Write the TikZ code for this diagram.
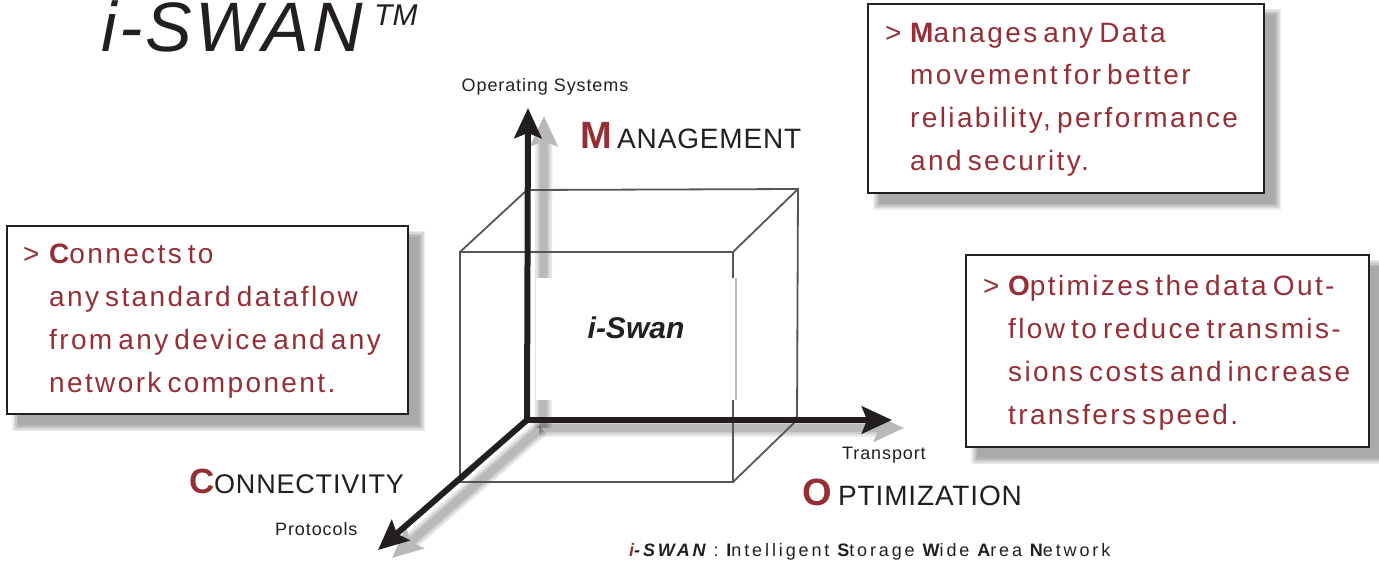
\documentclass[tikz,border=0pt]{standalone}
\usepackage{fontspec}
\setmainfont{Liberation Sans}
\newfontfamily\boxfont[LetterSpace=8.5,WordSpace=0.6]{Liberation Sans}
\newfontfamily\labfont[LetterSpace=5]{Liberation Sans}
\newfontfamily\capsfont[LetterSpace=3]{Liberation Sans}
\newfontfamily\titlefont[LetterSpace=4]{Liberation Sans}
\newfontfamily\capfont[LetterSpace=16]{Liberation Sans}
\usetikzlibrary{arrows.meta,fit}
\definecolor{ink}{RGB}{35,31,32}
\definecolor{wine}{RGB}{150,46,54}
\definecolor{edgegray}{RGB}{85,85,85}
\newcommand\myboxshadow[2]{%
  \foreach \d in {0,1.5,3,4.5,6}{%
    \fill[black,opacity=0.08] ([shift={(11-\d,11-\d)}]#1) rectangle ([shift={(11+\d,11+\d)}]#2);}}
\begin{document}
\begin{tikzpicture}[x=1pt,y=-1pt,
  axis/.style={line width=6pt, draw=ink, -{Stealth[length=30pt,width=27pt,inset=5pt]}},
  axshadow/.style={line width=#1, draw=black, -{Stealth[length=30pt,width=27pt,inset=5pt]}},
  cubeedge/.style={draw=edgegray, line width=1.8pt},
  infobox/.style={draw=ink, line width=2.5pt, fill=white, inner sep=0pt},
  boxtxt/.style={anchor=base west, inner sep=0pt, text=wine, font=\boxfont\fontsize{28}{34}\selectfont},
  lab/.style={anchor=base west, inner sep=0pt, text=ink, font=\labfont\fontsize{18}{22}\selectfont},
  bigcap/.style={anchor=base west, inner sep=0pt, text=wine, font=\bfseries\fontsize{#1}{#1}\selectfont},
  smallcaps/.style={anchor=base west, inner sep=0pt, text=ink, font=\capsfont\fontsize{#1}{#1}\selectfont}
]
\useasboundingbox (0,0) rectangle (1379,564);

% title
\node[anchor=base west, inner sep=0pt, text=ink, font=\titlefont\itshape\fontsize{70}{70}\selectfont] (title) at (101,52) {i-SWAN};
\node[anchor=base west, inner sep=0pt, text=ink, font=\itshape\fontsize{30}{30}\selectfont] (tm) at (374,26) {TM};

% axes coordinates
\coordinate (O) at (527,420);
\coordinate (Ytip) at (528,108);
\coordinate (Xtip) at (892,420);
\coordinate (Ztip) at (378,550);

% axis shadows
\foreach \w in {17,12,8}{
  \begin{scope}[opacity=0.1, transparency group]
  \draw[axshadow=\w pt] ([shift={(16,8)}]O) -- ([shift={(16,8)}]Ytip);
  \end{scope}
  \begin{scope}[opacity=0.1, transparency group]
  \draw[axshadow=\w pt] ([shift={(12,8)}]O) -- ([shift={(12,8)}]Xtip);
  \end{scope}
  \begin{scope}[opacity=0.1, transparency group]
  \draw[axshadow=\w pt] ([shift={(14,8)}]O) -- ([shift={(14,8)}]Ztip);
  \end{scope}
}

% cube
\coordinate (B1) at (527,190);
\coordinate (B2) at (798,189);
\coordinate (B3) at (797,420);
\coordinate (F1) at (460,252);
\coordinate (F2) at (733,252);
\coordinate (F3) at (733,482);
\coordinate (F4) at (460,482);
\draw[cubeedge] (B1) -- (B2) -- (B3) -- (O);
\draw[cubeedge] (F1) -- (F2) -- (F3) -- (F4) -- cycle;
\draw[cubeedge] (B1) -- (F1);
\draw[cubeedge] (B2) -- (F2);
\draw[cubeedge] (B3) -- (F3);
\draw[cubeedge] (O) -- (F4);

% white label area
\fill[white] (536,278) rectangle (734.5,400);
\draw[gray!55, line width=1.8pt] (736,278) -- (736,400);
\node[anchor=base, inner sep=0pt, text=ink, font=\bfseries\itshape\fontsize{30}{30}\selectfont] (swan) at (636,338) {i-Swan};

% axes
\draw[axis] (O) -- (Ytip);
\draw[axis] (O) -- (Xtip);
\draw[axis] (O) -- (Ztip);

% axis labels
\node[lab, anchor=base] (os) at (545,92) {Operating Systems};
\node[bigcap=38] (mbig) at (580,149) {M};
\node[smallcaps=28] (mrest) at (617,149) {ANAGEMENT};
\node[lab] (transport) at (842,459) {Transport};
\node[bigcap=38] (obig) at (802,505) {O};
\node[smallcaps=28] (orest) at (838,505) {PTIMIZATION};
\node[bigcap=35] (cbig) at (189,493) {C};
\node[smallcaps=27] (crest) at (214,493) {ONNECTIVITY};
\node[lab] (protocols) at (275,535) {Protocols};

% caption
\node[anchor=base west, inner sep=0pt, text=ink, font=\capfont\fontsize{18}{20}\selectfont] (caption) at (629,556)
  {{\bfseries\itshape\color{wine}i}{\bfseries\itshape -SWAN} : {\bfseries I}ntelligent {\bfseries S}torage {\bfseries W}ide {\bfseries A}rea {\bfseries N}etwork};

% box 1 (connectivity)
\coordinate (b1nw) at (7,226);
\coordinate (b1se) at (408,414);
\myboxshadow{b1nw}{b1se}
\node[infobox, fit=(b1nw)(b1se)] (b1) {};
\node[boxtxt] (b1g) at (23,263) {>};
\node[boxtxt] (b1l1) at (49,263) {{\bfseries C}onnects to};
\node[boxtxt] (b1l2) at (49,306) {any standard dataflow};
\node[boxtxt] (b1l3) at (49,349) {from any device and any};
\node[boxtxt] (b1l4) at (49,392) {network component.};

% box 2 (management)
\coordinate (b2nw) at (868,4);
\coordinate (b2se) at (1264,193);
\myboxshadow{b2nw}{b2se}
\node[infobox, fit=(b2nw)(b2se)] (b2) {};
\node[boxtxt] (b2g) at (885,43) {>};
\node[boxtxt] (b2l1) at (910,43) {{\bfseries M}anages any Data};
\node[boxtxt] (b2l2) at (910,85) {movement for better};
\node[boxtxt] (b2l3) at (910,128) {reliability, performance};
\node[boxtxt] (b2l4) at (910,171) {and security.};

% box 3 (optimization)
\coordinate (b3nw) at (966,255);
\coordinate (b3se) at (1369,447);
\myboxshadow{b3nw}{b3se}
\node[infobox, fit=(b3nw)(b3se)] (b3) {};
\node[boxtxt] (b3g) at (983,295) {>};
\node[boxtxt] (b3l1) at (1008,295) {{\bfseries O}ptimizes the data Out-};
\node[boxtxt] (b3l2) at (1008,338) {flow to reduce transmis-};
\node[boxtxt] (b3l3) at (1008,381) {sions costs and increase};
\node[boxtxt] (b3l4) at (1008,424) {transfers speed.};
\end{tikzpicture}
\end{document}
